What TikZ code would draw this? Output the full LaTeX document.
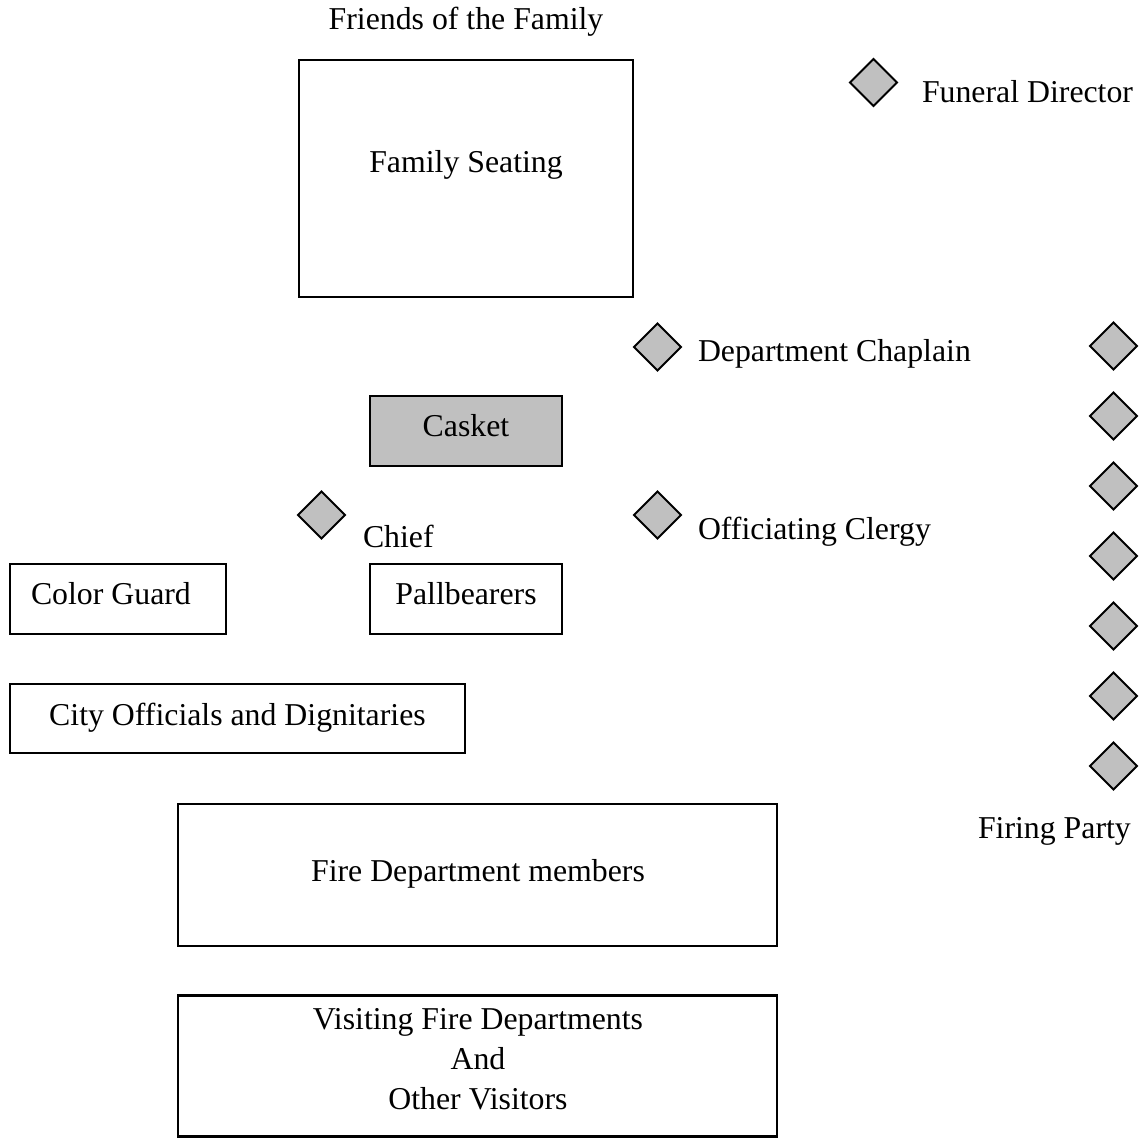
\documentclass[tikz,border=0pt]{standalone}
\usepackage{fontspec}
\setmainfont{Liberation Serif}
\usetikzlibrary{shapes.geometric}
\definecolor{seatgray}{HTML}{C0C0C0}
\begin{document}
\begin{tikzpicture}[x=1pt,y=-1pt,
  box/.style={draw=black,line width=2.4pt,inner sep=0pt,outer sep=0pt},
  marker/.style={diamond,draw=black,line width=1.8pt,fill=seatgray,inner sep=0pt,outer sep=0pt,minimum width=47pt,minimum height=47pt},
  lbl/.style={inner sep=0pt,outer sep=0pt,font=\fontsize{31.8}{40}\selectfont},
  ]
\useasboundingbox (0,0) rectangle (1148,1139);
% boxes
\node[box,minimum width=334pt,minimum height=237pt] (family) at (466,178.5) {};
\node[box,fill=seatgray,minimum width=192pt,minimum height=70pt] (casket) at (466,431) {};
\node[box,minimum width=216pt,minimum height=70pt] (colorguard) at (118,599) {};
\node[box,minimum width=192pt,minimum height=70pt] (pall) at (466,599) {};
\node[box,minimum width=455pt,minimum height=69pt] (city) at (237.5,718.5) {};
\node[box,minimum width=599pt,minimum height=142pt] (firedept) at (477.5,875) {};
\node[box,minimum width=599pt,minimum height=141pt] (visiting) at (477.5,1066) {};
% texts in boxes
\node[lbl,anchor=base] (tfriends) at (466,30) {Friends of the Family};
\node[lbl,anchor=base] (tfamily) at (466,173) {Family Seating};
\node[lbl,anchor=base] (tcasket) at (466,436) {Casket};
\node[lbl,anchor=base west] (tcolor) at (31,604) {Color Guard};
\node[lbl,anchor=base] (tpall) at (466,604) {Pallbearers};
\node[lbl,anchor=base] (tcity) at (237.5,725) {City Officials and Dignitaries};
\node[lbl,anchor=base] (tfire) at (478,881) {Fire Department members};
\node[lbl,anchor=base] (tvis1) at (478,1029) {Visiting Fire Departments};
\node[lbl,anchor=base] (tvis2) at (478,1069) {And};
\node[lbl,anchor=base] (tvis3) at (478,1109) {Other Visitors};
% diamonds with labels
\node[marker] (fdir) at (873.5,82.5) {};
\node[lbl,anchor=base west] (tfdir) at (922,103) {Funeral Director};
\node[marker] (chap) at (657.5,347) {};
\node[lbl,anchor=base west] (tchap) at (698,362) {Department Chaplain};
\node[marker] (chief) at (321.5,515) {};
\node[lbl,anchor=base west] (tchief) at (363,547) {Chief};
\node[marker] (clergy) at (657.5,515) {};
\node[lbl,anchor=base west] (tclergy) at (698,539) {Officiating Clergy};
% firing party
\foreach \i in {0,...,6} {
  \node[marker] (fp\i) at (1113.5,{346+70*\i}) {};
}
\node[lbl,anchor=base west] (tfiring) at (978,838) {Firing Party};
\end{tikzpicture}
\end{document}
